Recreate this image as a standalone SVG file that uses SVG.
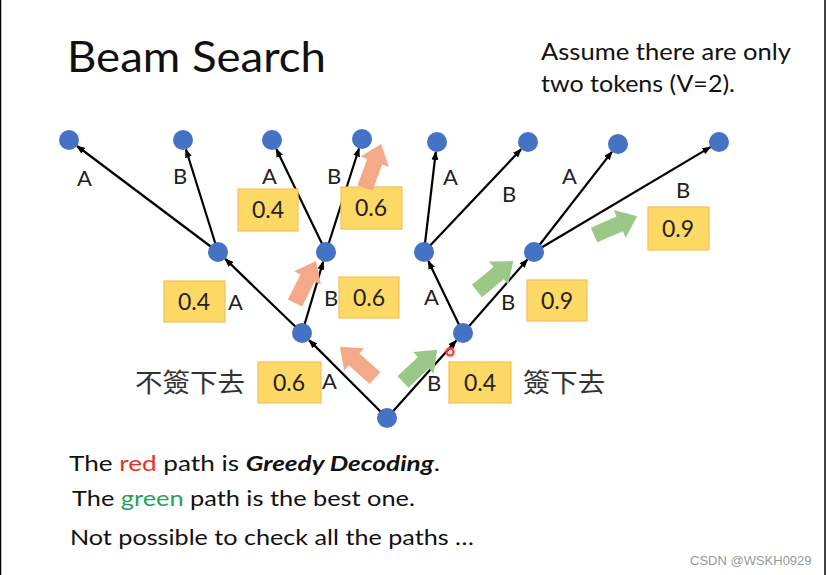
<svg xmlns="http://www.w3.org/2000/svg" width="827" height="575" viewBox="0 0 827 575">
<style>
.node{fill:#4472C4}
.edge{stroke:#000;stroke-width:2.2;fill:none;marker-end:url(#ah)}
.lbl{font-family:Lato,"Open Sans",sans-serif;font-size:22px;fill:#222}
.box rect{fill:#FFD966;stroke:#F5BE5C;stroke-width:1.2}
.box text{font-family:Lato,"Open Sans",sans-serif;font-size:23px;fill:#222;text-anchor:middle}
.ora{fill:#F4AA88}
.grn{fill:#9CC887}
.txt{font-family:Lato,"Open Sans",sans-serif;fill:#111}
.cjk{font-family:"Noto Sans CJK TC","Noto Sans CJK SC",sans-serif;font-size:26px;fill:#333}
</style>
<defs>
<marker id="ah" markerUnits="userSpaceOnUse" markerWidth="9" markerHeight="7" refX="8" refY="3.5" orient="auto">
<path d="M0,0 L9,3.5 L0,7 z" fill="#000"/>
</marker>
<path id="barrow" d="M0,-8 L28,-8 L28,-15 L47,0 L28,15 L28,8 L0,8 Z"/>
</defs>
<rect width="827" height="575" fill="#fff"/>
<line x1="0.5" y1="0" x2="0.5" y2="575" stroke="#000" stroke-width="1.5"/>
<line x1="825" y1="0" x2="825" y2="575" stroke="#000" stroke-width="1.5"/>

<text class="txt" x="67" y="72" font-size="43" textLength="259" lengthAdjust="spacingAndGlyphs">Beam Search</text>
<text class="txt" x="541" y="60" font-size="23" textLength="250" lengthAdjust="spacingAndGlyphs">Assume there are only</text>
<text class="txt" x="541" y="92" font-size="23" textLength="194" lengthAdjust="spacingAndGlyphs">two tokens (V=2).</text>

<g id="connectors">
<line class="edge" x1="387" y1="418" x2="309.1" y2="340.1"/>
<line class="edge" x1="387" y1="418" x2="456.3" y2="340.5"/>
<line class="edge" x1="302" y1="333" x2="225.2" y2="258.9"/>
<line class="edge" x1="302" y1="333" x2="323.2" y2="261.6"/>
<line class="edge" x1="463" y1="333" x2="428.3" y2="261"/>
<line class="edge" x1="463" y1="333" x2="527.4" y2="259.5"/>
<line class="edge" x1="218" y1="252" x2="77" y2="146"/>
<line class="edge" x1="218" y1="252" x2="186" y2="149.5"/>
<line class="edge" x1="326" y1="252" x2="276.3" y2="149"/>
<line class="edge" x1="326" y1="252" x2="359" y2="148.5"/>
<line class="edge" x1="424" y1="252" x2="435.8" y2="151.9"/>
<line class="edge" x1="424" y1="252" x2="521.1" y2="149.3"/>
<line class="edge" x1="534" y1="252" x2="611.9" y2="151.9"/>
<line class="edge" x1="534" y1="252" x2="710.4" y2="147.1"/>
</g>

<g id="edge-labels">
<text class="lbl" x="77" y="186">A</text>
<text class="lbl" x="173" y="184">B</text>
<text class="lbl" x="262" y="184">A</text>
<text class="lbl" x="327" y="184">B</text>
<text class="lbl" x="443" y="185">A</text>
<text class="lbl" x="502" y="202">B</text>
<text class="lbl" x="562" y="184">A</text>
<text class="lbl" x="676" y="198">B</text>
<text class="lbl" x="228" y="310">A</text>
<text class="lbl" x="324" y="306">B</text>
<text class="lbl" x="424" y="305">A</text>
<text class="lbl" x="501" y="310">B</text>
<text class="lbl" x="322" y="389">A</text>
<text class="lbl" x="427" y="391">B</text>
</g>

<g id="root"><circle class="node" cx="387" cy="418" r="10"/></g>
<g id="n1a"><circle class="node" cx="302" cy="333" r="10"/></g>
<g id="n1b"><circle class="node" cx="463" cy="333" r="10"/></g>
<g id="n2a"><circle class="node" cx="218" cy="252" r="10"/></g>
<g id="n2b"><circle class="node" cx="326" cy="252" r="10"/></g>
<g id="n2c"><circle class="node" cx="424" cy="252" r="10"/></g>
<g id="n2d"><circle class="node" cx="534" cy="252" r="10"/></g>
<g id="leaf1"><circle class="node" cx="69" cy="140" r="10"/></g>
<g id="leaf2"><circle class="node" cx="183" cy="140" r="10"/></g>
<g id="leaf3"><circle class="node" cx="272" cy="140" r="10"/></g>
<g id="leaf4"><circle class="node" cx="362" cy="139" r="10"/></g>
<g id="leaf5"><circle class="node" cx="437" cy="142" r="10"/></g>
<g id="leaf6"><circle class="node" cx="528" cy="142" r="10"/></g>
<g id="leaf7"><circle class="node" cx="618" cy="144" r="10"/></g>
<g id="leaf8"><circle class="node" cx="719" cy="142" r="10"/></g>

<g id="boxes">
<g class="box"><rect x="238" y="189" width="60" height="42"/><text x="268" y="218">0.4</text></g>
<g class="box"><rect x="341" y="187" width="61" height="42"/><text x="371" y="216">0.6</text></g>
<g class="box"><rect x="164" y="281" width="61" height="41"/><text x="194" y="310">0.4</text></g>
<g class="box"><rect x="339" y="277" width="60" height="41"/><text x="369" y="306">0.6</text></g>
<g class="box"><rect x="527" y="280" width="60" height="41"/><text x="557" y="309">0.9</text></g>
<g class="box"><rect x="648" y="207" width="61" height="43"/><text x="678" y="237">0.9</text></g>
<g class="box"><rect x="258" y="362" width="63" height="41"/><text x="289" y="391">0.6</text></g>
<g class="box"><rect x="449" y="362" width="62" height="41"/><text x="480" y="391">0.4</text></g>
</g>

<g id="block-arrows">
<use href="#barrow" class="ora" transform="translate(365,188) rotate(-69.7)"/>
<use href="#barrow" class="ora" transform="translate(295,303) rotate(-63.4)"/>
<use href="#barrow" class="ora" transform="translate(375,378) rotate(-138.3)"/>
<use href="#barrow" class="grn" transform="translate(403,382) rotate(-43.3)"/>
<use href="#barrow" class="grn" transform="translate(477,291) rotate(-39.5)"/>
<use href="#barrow" class="grn" transform="translate(594,235) rotate(-23.4)"/>
</g>

<circle cx="450" cy="352" r="3.5" fill="none" stroke="#E83030" stroke-width="2"/>
<circle cx="450" cy="352" r="6" fill="#FF6060" opacity="0.25"/>

<text class="cjk" x="135" y="392" textLength="110" lengthAdjust="spacingAndGlyphs">不簽下去</text>
<text class="cjk" x="523" y="392" textLength="82" lengthAdjust="spacingAndGlyphs">簽下去</text>

<text class="txt" x="69" y="471" font-size="21" textLength="371" lengthAdjust="spacingAndGlyphs">The <tspan fill="#E8321E">red</tspan> path is <tspan font-weight="bold" font-style="italic">Greedy Decoding</tspan>.</text>
<text class="txt" x="72" y="506" font-size="21" textLength="343" lengthAdjust="spacingAndGlyphs">The <tspan fill="#23A35A">green</tspan> path is the best one.</text>
<text class="txt" x="70" y="545" font-size="21" textLength="404" lengthAdjust="spacingAndGlyphs">Not possible to check all the paths …</text>

<text x="690" y="565" font-family="'Liberation Sans',Arial,sans-serif" font-size="13" fill="#999">CSDN @WSKH0929</text>
</svg>
